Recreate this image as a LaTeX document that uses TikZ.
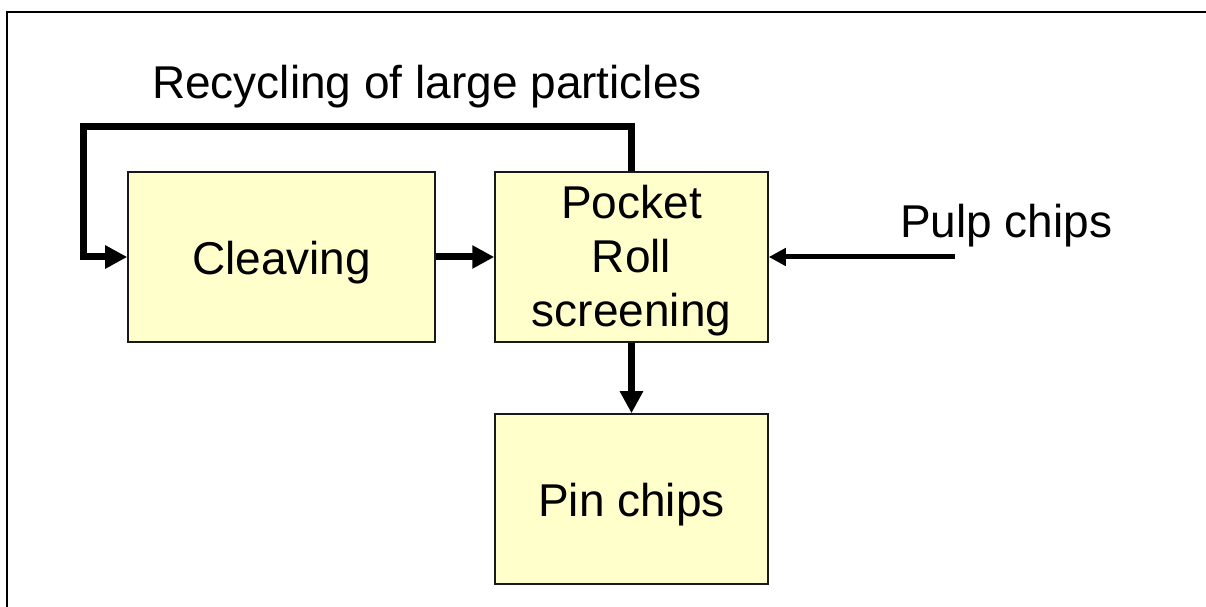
\documentclass[tikz,border=0pt]{standalone}
\usepackage{fontspec}
\setmainfont{Liberation Sans}
\usetikzlibrary{arrows.meta}
\begin{document}
\begin{tikzpicture}[x=1bp,y=-1bp,
  procbox/.style={draw=black!90, line width=1.5bp, fill={rgb,255:red,255;green,255;blue,204},
    minimum width=273bp, minimum height=170bp, inner sep=0pt, align=center,
    text height=45.5bp,
    font=\fontsize{46bp}{54bp}\selectfont},
  label/.style={inner sep=0pt, font=\fontsize{46bp}{54bp}\selectfont},
  flow/.style={line width=7bp, -{Triangle[length=22bp,width=22bp]}},
  feed/.style={line width=5bp, -{Triangle[length=17bp,width=17bp]}}]
  \useasboundingbox (0,0) rectangle (1206,607);
  % frame (top and left edges)
  \draw[line width=2bp] (7,607) -- (7,12) -- (1206,12);
  % process boxes
  \node[procbox, minimum width=307bp] (cleave) at (281.5,257) {Cleaving};
  \node[procbox, text height=149.5bp] (pocket) at (631.5,257) {Pocket\\Roll\\screening};
  \node[procbox] (pin) at (631.5,499) {Pin chips};
  % labels
  \node[label, anchor=base west] (rec) at (152,99) {Recycling of large particles};
  \node[label, anchor=base west] (pulp) at (900,238) {Pulp chips};
  % connectors
  \coordinate (loop) at (83,127);
  \coordinate (feedin) at (955,257);
  \draw[flow] (pocket.north) |- (loop) |- (cleave.west);
  \draw[flow] (cleave.east) -- (pocket.west);
  \draw[flow] (pocket.south) -- (pin.north);
  \draw[feed] (feedin) -- (pocket.east);
\end{tikzpicture}
\end{document}
